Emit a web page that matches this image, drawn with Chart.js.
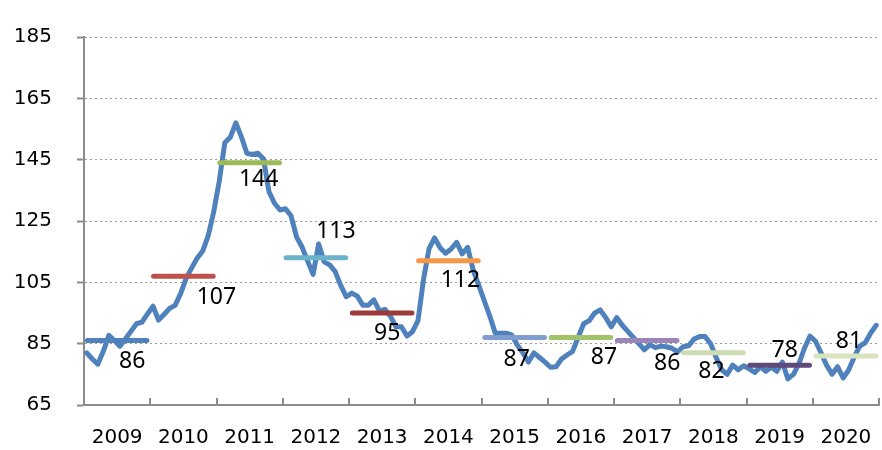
<!DOCTYPE html>
<html>
<head>
<meta charset="utf-8">
<script src="https://cdn.jsdelivr.net/npm/chart.js@4"></script>
<style>
  html, body { margin: 0; padding: 0; background: #fff; }
  #wrap { width: 882px; height: 450px; }
</style>
</head>
<body>
<div id="wrap"><canvas id="chart" width="882" height="450"></canvas></div>
<script>
// Year labels along the bottom axis
const years = ['2009', '2010', '2011', '2012', '2013', '2014', '2015', '2016', '2017', '2018', '2019', '2020'];

// Y axis ticks
const yTicks = [65, 85, 105, 125, 145, 165, 185];

// Monthly index, one row per year
const monthly2009 = [82, 80, 78.3, 82.5, 87.7, 86, 84.2, 86.5, 89, 91.5, 92, 94.7];
const monthly2010 = [97.2, 92.7, 94.5, 96.5, 97.5, 101.3, 106.3, 109.7, 112.9, 115.2, 120.2, 128];
const monthly2011 = [138, 150.5, 152.3, 157, 152.5, 147.1, 146.7, 147.1, 145.3, 134.6, 130.8, 128.6];
const monthly2012 = [129, 126.7, 119.8, 116.5, 112, 107.6, 117.5, 111.7, 110.7, 108.5, 104, 100.3];
const monthly2013 = [101.5, 100.5, 97.5, 97.5, 99.3, 95.7, 96.2, 94, 90.5, 90.5, 87.5, 88.9];
const monthly2014 = [92.5, 106, 116, 119.5, 116.3, 114.5, 115.9, 118, 114.3, 116.4, 109, 104];
const monthly2015 = [99, 94, 88.4, 88.4, 88.4, 87.8, 84.5, 82, 79, 82, 80.5, 79];
const monthly2016 = [77.3, 77.5, 80, 81.3, 82.5, 87, 91.5, 92.5, 95, 96, 93.5, 90.5];
const monthly2017 = [93.5, 91, 89, 87, 85, 83, 84.7, 83.7, 84.2, 84, 83.5, 82.3];
const monthly2018 = [84, 84.3, 86.5, 87.3, 87.3, 85, 80.5, 76.5, 75, 78, 76.5, 77.8];
const monthly2019 = [76.8, 75.6, 77.5, 76, 77.3, 76, 79, 73.5, 75, 78.5, 83.5, 87.5];
const monthly2020 = [85.8, 82, 78, 75, 77.5, 73.8, 76.4, 80.6, 84.2, 85.3, 88.5, 91];

// Annual averages
const annualAverages = [86, 107, 144, 113, 95, 112, 87, 87, 86, 82, 78, 81];

// Styling for the average bars and where their labels sit (px from bar centre)
const avgColors = ['#4f81bd', '#c0504d', '#9bbb59', '#6ab3cb', '#9b3b38', '#f79646',
                   '#7f9dcd', '#a3c36b', '#9a84b8', '#ccdbb2', '#604a7b', '#d7e4bd'];
const labelOffsets = [[15, 21], [33, 21], [9, 17], [20, -26], [5, 20], [12, 20],
                      [2, 22], [23, 20], [20, 23], [-2, 19], [5, -15], [3, -14]];

const monthlyValues = [].concat(monthly2009, monthly2010, monthly2011, monthly2012,
  monthly2013, monthly2014, monthly2015, monthly2016, monthly2017, monthly2018,
  monthly2019, monthly2020);

const AXIS_GREY = '#8c8c8c';

// Short tick marks pointing up into the plot at each year boundary
const yearTicks = {
  id: 'yearTicks',
  afterDatasetsDraw(chart) {
    const { ctx, scales: { x }, chartArea } = chart;
    ctx.save();
    ctx.strokeStyle = AXIS_GREY;
    ctx.lineWidth = 2;
    for (let k = 1; k <= years.length; k++) {
      const px = Math.round(x.getPixelForValue(k * 12));
      ctx.beginPath();
      ctx.moveTo(px, chartArea.bottom);
      ctx.lineTo(px, chartArea.bottom - 7);
      ctx.stroke();
    }
    ctx.restore();
  }
};

// Average value labels
const avgLabels = {
  id: 'avgLabels',
  afterDatasetsDraw(chart) {
    const { ctx, scales: { x, y } } = chart;
    ctx.save();
    ctx.font = '23px "Noto Sans"';
    ctx.fillStyle = '#000';
    ctx.textAlign = 'center';
    ctx.textBaseline = 'middle';
    annualAverages.forEach((v, k) => {
      const px = x.getPixelForValue(k * 12 + 6) + labelOffsets[k][0];
      const py = y.getPixelForValue(v) + labelOffsets[k][1];
      ctx.fillText(String(v), px, py);
    });
    ctx.restore();
  }
};

const datasets = [{
  label: 'Monthly',
  data: monthlyValues.map((v, i) => ({ x: i + 0.5, y: v })),
  borderColor: '#4f81bd',
  borderWidth: 5,
  borderJoinStyle: 'round',
  borderCapStyle: 'round',
  pointRadius: 0,
  tension: 0,
  order: 2,
  clip: false
}];

annualAverages.forEach((v, k) => {
  datasets.push({
    label: years[k],
    data: [{ x: k * 12 + 0.6, y: v }, { x: (k + 1) * 12 - 0.6, y: v }],
    borderColor: avgColors[k],
    borderWidth: 5,
    borderCapStyle: 'round',
    pointRadius: 0,
    order: 1,
    clip: false
  });
});

new Chart(document.getElementById('chart'), {
  type: 'line',
  data: { datasets },
  options: {
    responsive: false,
    animation: false,
    devicePixelRatio: 1,
    layout: { padding: { top: 20, right: 3, left: 0, bottom: 0 } },
    plugins: {
      legend: { display: false },
      tooltip: { enabled: false }
    },
    scales: {
      x: {
        type: 'linear',
        min: 0,
        max: years.length * 12,
        afterBuildTicks: s => { s.ticks = years.map((_, k) => ({ value: k * 12 + 6 })); },
        afterFit: s => { s.height = 45; s.paddingLeft = 0; s.paddingRight = 0; },
        grid: { display: false, drawTicks: false },
        border: { display: true, color: AXIS_GREY, width: 2 },
        ticks: {
          autoSkip: false,
          maxRotation: 0,
          padding: 21,
          color: '#000',
          font: { family: 'DejaVu Sans', size: 20 },
          callback: (v, i) => years[i]
        }
      },
      y: {
        min: yTicks[0],
        max: yTicks[yTicks.length - 1],
        afterBuildTicks: s => { s.ticks = yTicks.map(v => ({ value: v })); },
        afterFit: s => { s.width = 84; },
        grid: {
          color: '#9a9a9a',
          lineWidth: 1,
          tickLength: 7,
          tickColor: AXIS_GREY,
          tickWidth: 2
        },
        border: { display: true, color: AXIS_GREY, width: 2, dash: [2, 3] },
        ticks: {
          padding: 25,
          color: '#000',
          font: { family: 'DejaVu Sans', size: 20 }
        }
      }
    }
  },
  plugins: [yearTicks, avgLabels]
});
</script>
</body>
</html>
